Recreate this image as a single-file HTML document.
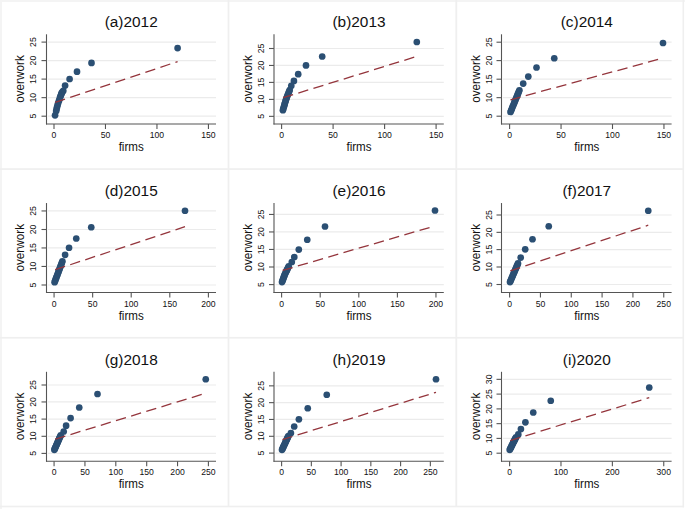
<!DOCTYPE html><html><head><meta charset="utf-8"><style>html,body{margin:0;padding:0;background:#fff;}svg{display:block;}text{font-family:"Liberation Sans",sans-serif;fill:#111;}</style></head><body>
<svg width="685" height="509" viewBox="0 0 685 509">
<rect x="0" y="0" width="685" height="509" fill="#fff"/>
<g fill="#efefef">
<rect x="0" y="0" width="685" height="2" fill="#f4f4f4"/>
<rect x="0" y="0" width="2" height="509" fill="#f4f4f4"/>
<rect x="227.6" y="0" width="1.8" height="507"/>
<rect x="455.4" y="0" width="1.8" height="507"/>
<rect x="682.5" y="0" width="1.6" height="507.3"/>
<rect x="0" y="168.2" width="684" height="1.7"/>
<rect x="0" y="336.9" width="684" height="1.7"/>
<rect x="0" y="505.7" width="684.1" height="1.6"/>
</g>
<g><line x1="48" y1="42.1" x2="216" y2="42.1" stroke="#ebebeb" stroke-width="1.2"/><line x1="48" y1="60.6" x2="216" y2="60.6" stroke="#ebebeb" stroke-width="1.2"/><line x1="48" y1="79.1" x2="216" y2="79.1" stroke="#ebebeb" stroke-width="1.2"/><line x1="48" y1="97.65" x2="216" y2="97.65" stroke="#ebebeb" stroke-width="1.2"/><line x1="48" y1="116.2" x2="216" y2="116.2" stroke="#ebebeb" stroke-width="1.2"/><line x1="46.5" y1="34.3" x2="46.5" y2="124.5" stroke="#555555" stroke-width="1.1"/><line x1="46" y1="124" x2="216" y2="124" stroke="#555555" stroke-width="1.1"/><line x1="41.5" y1="42.1" x2="46.5" y2="42.1" stroke="#555555" stroke-width="1.1"/><text x="0" y="0" transform="translate(36.2,42.1) rotate(-90)" text-anchor="middle" font-size="9" textLength="9.61" lengthAdjust="spacingAndGlyphs">25</text><line x1="41.5" y1="60.6" x2="46.5" y2="60.6" stroke="#555555" stroke-width="1.1"/><text x="0" y="0" transform="translate(36.2,60.6) rotate(-90)" text-anchor="middle" font-size="9" textLength="9.61" lengthAdjust="spacingAndGlyphs">20</text><line x1="41.5" y1="79.1" x2="46.5" y2="79.1" stroke="#555555" stroke-width="1.1"/><text x="0" y="0" transform="translate(36.2,79.1) rotate(-90)" text-anchor="middle" font-size="9" textLength="9.61" lengthAdjust="spacingAndGlyphs">15</text><line x1="41.5" y1="97.65" x2="46.5" y2="97.65" stroke="#555555" stroke-width="1.1"/><text x="0" y="0" transform="translate(36.2,97.65) rotate(-90)" text-anchor="middle" font-size="9" textLength="9.61" lengthAdjust="spacingAndGlyphs">10</text><line x1="41.5" y1="116.2" x2="46.5" y2="116.2" stroke="#555555" stroke-width="1.1"/><text x="0" y="0" transform="translate(36.2,116.2) rotate(-90)" text-anchor="middle" font-size="9" textLength="4.81" lengthAdjust="spacingAndGlyphs">5</text><line x1="54" y1="124" x2="54" y2="129" stroke="#555555" stroke-width="1.1"/><text x="54" y="138.1" text-anchor="middle" font-size="9" textLength="4.81" lengthAdjust="spacingAndGlyphs">0</text><line x1="105.48" y1="124" x2="105.48" y2="129" stroke="#555555" stroke-width="1.1"/><text x="105.48" y="138.1" text-anchor="middle" font-size="9" textLength="9.61" lengthAdjust="spacingAndGlyphs">50</text><line x1="156.96" y1="124" x2="156.96" y2="129" stroke="#555555" stroke-width="1.1"/><text x="156.96" y="138.1" text-anchor="middle" font-size="9" textLength="14.42" lengthAdjust="spacingAndGlyphs">100</text><line x1="208.44" y1="124" x2="208.44" y2="129" stroke="#555555" stroke-width="1.1"/><text x="208.44" y="138.1" text-anchor="middle" font-size="9" textLength="14.42" lengthAdjust="spacingAndGlyphs">150</text><circle cx="177.6" cy="48.1" r="3.35" fill="#2b4f73"/><circle cx="91.5" cy="62.9" r="3.35" fill="#2b4f73"/><circle cx="77" cy="71.7" r="3.35" fill="#2b4f73"/><circle cx="69.6" cy="79" r="3.35" fill="#2b4f73"/><circle cx="65.1" cy="85.6" r="3.35" fill="#2b4f73"/><circle cx="63.3" cy="90.85" r="3.35" fill="#2b4f73"/><circle cx="62.3" cy="92" r="3.35" fill="#2b4f73"/><circle cx="61.6" cy="93.2" r="3.35" fill="#2b4f73"/><circle cx="61.2" cy="94.4" r="3.35" fill="#2b4f73"/><circle cx="60.75" cy="95.6" r="3.35" fill="#2b4f73"/><circle cx="60.2" cy="97" r="3.35" fill="#2b4f73"/><circle cx="59.8" cy="98.4" r="3.35" fill="#2b4f73"/><circle cx="59" cy="100.7" r="3.35" fill="#2b4f73"/><circle cx="58.15" cy="103.1" r="3.35" fill="#2b4f73"/><circle cx="57.6" cy="105.1" r="3.35" fill="#2b4f73"/><circle cx="57.05" cy="107.1" r="3.35" fill="#2b4f73"/><circle cx="56.6" cy="109.1" r="3.35" fill="#2b4f73"/><circle cx="56.15" cy="111.1" r="3.35" fill="#2b4f73"/><circle cx="55.05" cy="115.3" r="3.35" fill="#2b4f73"/><line x1="55.15" y1="102.44" x2="177.6" y2="61.54" stroke="#94353c" stroke-width="1.3" stroke-dasharray="10.4 5.45"/><text class="ttl" x="131.2" y="27.3" text-anchor="middle" font-size="15.4">(a)2012</text><text x="131.2" y="150.8" text-anchor="middle" font-size="12" textLength="25.1" lengthAdjust="spacingAndGlyphs">firms</text><text x="0" y="0" transform="translate(24,79) rotate(-90)" text-anchor="middle" font-size="12" textLength="47.6" lengthAdjust="spacingAndGlyphs">overwork</text></g>
<g><line x1="275.5" y1="48.5" x2="443.8" y2="48.5" stroke="#ebebeb" stroke-width="1.2"/><line x1="275.5" y1="65.45" x2="443.8" y2="65.45" stroke="#ebebeb" stroke-width="1.2"/><line x1="275.5" y1="82.4" x2="443.8" y2="82.4" stroke="#ebebeb" stroke-width="1.2"/><line x1="275.5" y1="99.4" x2="443.8" y2="99.4" stroke="#ebebeb" stroke-width="1.2"/><line x1="275.5" y1="116.35" x2="443.8" y2="116.35" stroke="#ebebeb" stroke-width="1.2"/><line x1="274" y1="34.3" x2="274" y2="124.5" stroke="#555555" stroke-width="1.1"/><line x1="273.5" y1="124" x2="443.8" y2="124" stroke="#555555" stroke-width="1.1"/><line x1="269" y1="48.5" x2="274" y2="48.5" stroke="#555555" stroke-width="1.1"/><text x="0" y="0" transform="translate(264,48.5) rotate(-90)" text-anchor="middle" font-size="9" textLength="9.61" lengthAdjust="spacingAndGlyphs">25</text><line x1="269" y1="65.45" x2="274" y2="65.45" stroke="#555555" stroke-width="1.1"/><text x="0" y="0" transform="translate(264,65.45) rotate(-90)" text-anchor="middle" font-size="9" textLength="9.61" lengthAdjust="spacingAndGlyphs">20</text><line x1="269" y1="82.4" x2="274" y2="82.4" stroke="#555555" stroke-width="1.1"/><text x="0" y="0" transform="translate(264,82.4) rotate(-90)" text-anchor="middle" font-size="9" textLength="9.61" lengthAdjust="spacingAndGlyphs">15</text><line x1="269" y1="99.4" x2="274" y2="99.4" stroke="#555555" stroke-width="1.1"/><text x="0" y="0" transform="translate(264,99.4) rotate(-90)" text-anchor="middle" font-size="9" textLength="9.61" lengthAdjust="spacingAndGlyphs">10</text><line x1="269" y1="116.35" x2="274" y2="116.35" stroke="#555555" stroke-width="1.1"/><text x="0" y="0" transform="translate(264,116.35) rotate(-90)" text-anchor="middle" font-size="9" textLength="4.81" lengthAdjust="spacingAndGlyphs">5</text><line x1="281.6" y1="124" x2="281.6" y2="129" stroke="#555555" stroke-width="1.1"/><text x="281.6" y="138.1" text-anchor="middle" font-size="9" textLength="4.81" lengthAdjust="spacingAndGlyphs">0</text><line x1="333.1" y1="124" x2="333.1" y2="129" stroke="#555555" stroke-width="1.1"/><text x="333.1" y="138.1" text-anchor="middle" font-size="9" textLength="9.61" lengthAdjust="spacingAndGlyphs">50</text><line x1="384.6" y1="124" x2="384.6" y2="129" stroke="#555555" stroke-width="1.1"/><text x="384.6" y="138.1" text-anchor="middle" font-size="9" textLength="14.42" lengthAdjust="spacingAndGlyphs">100</text><line x1="436.1" y1="124" x2="436.1" y2="129" stroke="#555555" stroke-width="1.1"/><text x="436.1" y="138.1" text-anchor="middle" font-size="9" textLength="14.42" lengthAdjust="spacingAndGlyphs">150</text><circle cx="416.8" cy="42" r="3.35" fill="#2b4f73"/><circle cx="322.2" cy="56.5" r="3.35" fill="#2b4f73"/><circle cx="306" cy="65.4" r="3.35" fill="#2b4f73"/><circle cx="298.2" cy="74.2" r="3.35" fill="#2b4f73"/><circle cx="293.9" cy="80.9" r="3.35" fill="#2b4f73"/><circle cx="291.3" cy="85.8" r="3.35" fill="#2b4f73"/><circle cx="289.7" cy="90" r="3.35" fill="#2b4f73"/><circle cx="289.1" cy="91.53" r="3.35" fill="#2b4f73"/><circle cx="288.5" cy="93.06" r="3.35" fill="#2b4f73"/><circle cx="287.91" cy="94.58" r="3.35" fill="#2b4f73"/><circle cx="287.31" cy="96.11" r="3.35" fill="#2b4f73"/><circle cx="286.71" cy="97.64" r="3.35" fill="#2b4f73"/><circle cx="286.11" cy="99.17" r="3.35" fill="#2b4f73"/><circle cx="285.65" cy="100.74" r="3.35" fill="#2b4f73"/><circle cx="285.19" cy="102.32" r="3.35" fill="#2b4f73"/><circle cx="284.73" cy="103.9" r="3.35" fill="#2b4f73"/><circle cx="284.28" cy="105.47" r="3.35" fill="#2b4f73"/><circle cx="283.82" cy="107.05" r="3.35" fill="#2b4f73"/><circle cx="283.36" cy="108.62" r="3.35" fill="#2b4f73"/><circle cx="282.9" cy="110.2" r="3.35" fill="#2b4f73"/><line x1="283.15" y1="97.74" x2="416.8" y2="56.44" stroke="#94353c" stroke-width="1.3" stroke-dasharray="10.4 5.45"/><text class="ttl" x="359" y="27.3" text-anchor="middle" font-size="15.4">(b)2013</text><text x="359" y="150.8" text-anchor="middle" font-size="12" textLength="25.1" lengthAdjust="spacingAndGlyphs">firms</text><text x="0" y="0" transform="translate(251.8,79) rotate(-90)" text-anchor="middle" font-size="12" textLength="47.6" lengthAdjust="spacingAndGlyphs">overwork</text></g>
<g><line x1="503" y1="42.2" x2="671.6" y2="42.2" stroke="#ebebeb" stroke-width="1.2"/><line x1="503" y1="60.6" x2="671.6" y2="60.6" stroke="#ebebeb" stroke-width="1.2"/><line x1="503" y1="79.2" x2="671.6" y2="79.2" stroke="#ebebeb" stroke-width="1.2"/><line x1="503" y1="97.65" x2="671.6" y2="97.65" stroke="#ebebeb" stroke-width="1.2"/><line x1="503" y1="116.2" x2="671.6" y2="116.2" stroke="#ebebeb" stroke-width="1.2"/><line x1="501.5" y1="34.3" x2="501.5" y2="124.5" stroke="#555555" stroke-width="1.1"/><line x1="501" y1="124" x2="671.6" y2="124" stroke="#555555" stroke-width="1.1"/><line x1="496.5" y1="42.2" x2="501.5" y2="42.2" stroke="#555555" stroke-width="1.1"/><text x="0" y="0" transform="translate(491.8,42.2) rotate(-90)" text-anchor="middle" font-size="9" textLength="9.61" lengthAdjust="spacingAndGlyphs">25</text><line x1="496.5" y1="60.6" x2="501.5" y2="60.6" stroke="#555555" stroke-width="1.1"/><text x="0" y="0" transform="translate(491.8,60.6) rotate(-90)" text-anchor="middle" font-size="9" textLength="9.61" lengthAdjust="spacingAndGlyphs">20</text><line x1="496.5" y1="79.2" x2="501.5" y2="79.2" stroke="#555555" stroke-width="1.1"/><text x="0" y="0" transform="translate(491.8,79.2) rotate(-90)" text-anchor="middle" font-size="9" textLength="9.61" lengthAdjust="spacingAndGlyphs">15</text><line x1="496.5" y1="97.65" x2="501.5" y2="97.65" stroke="#555555" stroke-width="1.1"/><text x="0" y="0" transform="translate(491.8,97.65) rotate(-90)" text-anchor="middle" font-size="9" textLength="9.61" lengthAdjust="spacingAndGlyphs">10</text><line x1="496.5" y1="116.2" x2="501.5" y2="116.2" stroke="#555555" stroke-width="1.1"/><text x="0" y="0" transform="translate(491.8,116.2) rotate(-90)" text-anchor="middle" font-size="9" textLength="4.81" lengthAdjust="spacingAndGlyphs">5</text><line x1="509.6" y1="124" x2="509.6" y2="129" stroke="#555555" stroke-width="1.1"/><text x="509.6" y="138.1" text-anchor="middle" font-size="9" textLength="4.81" lengthAdjust="spacingAndGlyphs">0</text><line x1="561.05" y1="124" x2="561.05" y2="129" stroke="#555555" stroke-width="1.1"/><text x="561.05" y="138.1" text-anchor="middle" font-size="9" textLength="9.61" lengthAdjust="spacingAndGlyphs">50</text><line x1="612.5" y1="124" x2="612.5" y2="129" stroke="#555555" stroke-width="1.1"/><text x="612.5" y="138.1" text-anchor="middle" font-size="9" textLength="14.42" lengthAdjust="spacingAndGlyphs">100</text><line x1="663.95" y1="124" x2="663.95" y2="129" stroke="#555555" stroke-width="1.1"/><text x="663.95" y="138.1" text-anchor="middle" font-size="9" textLength="14.42" lengthAdjust="spacingAndGlyphs">150</text><circle cx="663" cy="43" r="3.35" fill="#2b4f73"/><circle cx="554.25" cy="58.25" r="3.35" fill="#2b4f73"/><circle cx="536.5" cy="67.5" r="3.35" fill="#2b4f73"/><circle cx="528.3" cy="76.6" r="3.35" fill="#2b4f73"/><circle cx="523.2" cy="83.6" r="3.35" fill="#2b4f73"/><circle cx="519.4" cy="90.3" r="3.35" fill="#2b4f73"/><circle cx="518.76" cy="91.85" r="3.35" fill="#2b4f73"/><circle cx="518.13" cy="93.4" r="3.35" fill="#2b4f73"/><circle cx="517.49" cy="94.95" r="3.35" fill="#2b4f73"/><circle cx="516.86" cy="96.5" r="3.35" fill="#2b4f73"/><circle cx="516.22" cy="98.05" r="3.35" fill="#2b4f73"/><circle cx="515.59" cy="99.6" r="3.35" fill="#2b4f73"/><circle cx="514.95" cy="101.15" r="3.35" fill="#2b4f73"/><circle cx="514.31" cy="102.7" r="3.35" fill="#2b4f73"/><circle cx="513.68" cy="104.25" r="3.35" fill="#2b4f73"/><circle cx="513.04" cy="105.8" r="3.35" fill="#2b4f73"/><circle cx="512.41" cy="107.35" r="3.35" fill="#2b4f73"/><circle cx="511.77" cy="108.9" r="3.35" fill="#2b4f73"/><circle cx="511.14" cy="110.45" r="3.35" fill="#2b4f73"/><circle cx="510.5" cy="112" r="3.35" fill="#2b4f73"/><line x1="510.45" y1="99.84" x2="663" y2="58.04" stroke="#94353c" stroke-width="1.3" stroke-dasharray="10.4 5.45"/><text class="ttl" x="586.8" y="27.3" text-anchor="middle" font-size="15.4">(c)2014</text><text x="586.8" y="150.8" text-anchor="middle" font-size="12" textLength="25.1" lengthAdjust="spacingAndGlyphs">firms</text><text x="0" y="0" transform="translate(479.6,79) rotate(-90)" text-anchor="middle" font-size="12" textLength="47.6" lengthAdjust="spacingAndGlyphs">overwork</text></g>
<g><line x1="48" y1="210.95" x2="216" y2="210.95" stroke="#ebebeb" stroke-width="1.2"/><line x1="48" y1="229.5" x2="216" y2="229.5" stroke="#ebebeb" stroke-width="1.2"/><line x1="48" y1="247.95" x2="216" y2="247.95" stroke="#ebebeb" stroke-width="1.2"/><line x1="48" y1="266.45" x2="216" y2="266.45" stroke="#ebebeb" stroke-width="1.2"/><line x1="48" y1="285" x2="216" y2="285" stroke="#ebebeb" stroke-width="1.2"/><line x1="46.5" y1="203.05" x2="46.5" y2="292.95" stroke="#555555" stroke-width="1.1"/><line x1="46" y1="292.45" x2="216" y2="292.45" stroke="#555555" stroke-width="1.1"/><line x1="41.5" y1="210.95" x2="46.5" y2="210.95" stroke="#555555" stroke-width="1.1"/><text x="0" y="0" transform="translate(36.2,210.95) rotate(-90)" text-anchor="middle" font-size="9" textLength="9.61" lengthAdjust="spacingAndGlyphs">25</text><line x1="41.5" y1="229.5" x2="46.5" y2="229.5" stroke="#555555" stroke-width="1.1"/><text x="0" y="0" transform="translate(36.2,229.5) rotate(-90)" text-anchor="middle" font-size="9" textLength="9.61" lengthAdjust="spacingAndGlyphs">20</text><line x1="41.5" y1="247.95" x2="46.5" y2="247.95" stroke="#555555" stroke-width="1.1"/><text x="0" y="0" transform="translate(36.2,247.95) rotate(-90)" text-anchor="middle" font-size="9" textLength="9.61" lengthAdjust="spacingAndGlyphs">15</text><line x1="41.5" y1="266.45" x2="46.5" y2="266.45" stroke="#555555" stroke-width="1.1"/><text x="0" y="0" transform="translate(36.2,266.45) rotate(-90)" text-anchor="middle" font-size="9" textLength="9.61" lengthAdjust="spacingAndGlyphs">10</text><line x1="41.5" y1="285" x2="46.5" y2="285" stroke="#555555" stroke-width="1.1"/><text x="0" y="0" transform="translate(36.2,285) rotate(-90)" text-anchor="middle" font-size="9" textLength="4.81" lengthAdjust="spacingAndGlyphs">5</text><line x1="54.07" y1="292.45" x2="54.07" y2="297.45" stroke="#555555" stroke-width="1.1"/><text x="54.07" y="306.55" text-anchor="middle" font-size="9" textLength="4.81" lengthAdjust="spacingAndGlyphs">0</text><line x1="92.65" y1="292.45" x2="92.65" y2="297.45" stroke="#555555" stroke-width="1.1"/><text x="92.65" y="306.55" text-anchor="middle" font-size="9" textLength="9.61" lengthAdjust="spacingAndGlyphs">50</text><line x1="131.2" y1="292.45" x2="131.2" y2="297.45" stroke="#555555" stroke-width="1.1"/><text x="131.2" y="306.55" text-anchor="middle" font-size="9" textLength="14.42" lengthAdjust="spacingAndGlyphs">100</text><line x1="169.8" y1="292.45" x2="169.8" y2="297.45" stroke="#555555" stroke-width="1.1"/><text x="169.8" y="306.55" text-anchor="middle" font-size="9" textLength="14.42" lengthAdjust="spacingAndGlyphs">150</text><line x1="208.4" y1="292.45" x2="208.4" y2="297.45" stroke="#555555" stroke-width="1.1"/><text x="208.4" y="306.55" text-anchor="middle" font-size="9" textLength="14.42" lengthAdjust="spacingAndGlyphs">200</text><circle cx="185" cy="210.75" r="3.35" fill="#2b4f73"/><circle cx="91.25" cy="227.25" r="3.35" fill="#2b4f73"/><circle cx="76.25" cy="238.5" r="3.35" fill="#2b4f73"/><circle cx="69.05" cy="247.75" r="3.35" fill="#2b4f73"/><circle cx="65.1" cy="254.8" r="3.35" fill="#2b4f73"/><circle cx="62.4" cy="261.3" r="3.35" fill="#2b4f73"/><circle cx="61.84" cy="262.79" r="3.35" fill="#2b4f73"/><circle cx="61.29" cy="264.29" r="3.35" fill="#2b4f73"/><circle cx="60.73" cy="265.78" r="3.35" fill="#2b4f73"/><circle cx="60.17" cy="267.27" r="3.35" fill="#2b4f73"/><circle cx="59.61" cy="268.76" r="3.35" fill="#2b4f73"/><circle cx="59.06" cy="270.26" r="3.35" fill="#2b4f73"/><circle cx="58.5" cy="271.75" r="3.35" fill="#2b4f73"/><circle cx="57.94" cy="273.24" r="3.35" fill="#2b4f73"/><circle cx="57.39" cy="274.74" r="3.35" fill="#2b4f73"/><circle cx="56.83" cy="276.23" r="3.35" fill="#2b4f73"/><circle cx="56.27" cy="277.72" r="3.35" fill="#2b4f73"/><circle cx="55.71" cy="279.21" r="3.35" fill="#2b4f73"/><circle cx="55.16" cy="280.71" r="3.35" fill="#2b4f73"/><circle cx="54.6" cy="282.2" r="3.35" fill="#2b4f73"/><line x1="55.15" y1="269.74" x2="185" y2="226.68" stroke="#94353c" stroke-width="1.3" stroke-dasharray="10.4 5.45"/><text class="ttl" x="131.2" y="196.05" text-anchor="middle" font-size="15.4">(d)2015</text><text x="131.2" y="319.55" text-anchor="middle" font-size="12" textLength="25.1" lengthAdjust="spacingAndGlyphs">firms</text><text x="0" y="0" transform="translate(24,247.75) rotate(-90)" text-anchor="middle" font-size="12" textLength="47.6" lengthAdjust="spacingAndGlyphs">overwork</text></g>
<g><line x1="275.5" y1="214.45" x2="443.8" y2="214.45" stroke="#ebebeb" stroke-width="1.2"/><line x1="275.5" y1="231.95" x2="443.8" y2="231.95" stroke="#ebebeb" stroke-width="1.2"/><line x1="275.5" y1="249.45" x2="443.8" y2="249.45" stroke="#ebebeb" stroke-width="1.2"/><line x1="275.5" y1="267" x2="443.8" y2="267" stroke="#ebebeb" stroke-width="1.2"/><line x1="275.5" y1="284.6" x2="443.8" y2="284.6" stroke="#ebebeb" stroke-width="1.2"/><line x1="274" y1="203.05" x2="274" y2="292.95" stroke="#555555" stroke-width="1.1"/><line x1="273.5" y1="292.45" x2="443.8" y2="292.45" stroke="#555555" stroke-width="1.1"/><line x1="269" y1="214.45" x2="274" y2="214.45" stroke="#555555" stroke-width="1.1"/><text x="0" y="0" transform="translate(264,214.45) rotate(-90)" text-anchor="middle" font-size="9" textLength="9.61" lengthAdjust="spacingAndGlyphs">25</text><line x1="269" y1="231.95" x2="274" y2="231.95" stroke="#555555" stroke-width="1.1"/><text x="0" y="0" transform="translate(264,231.95) rotate(-90)" text-anchor="middle" font-size="9" textLength="9.61" lengthAdjust="spacingAndGlyphs">20</text><line x1="269" y1="249.45" x2="274" y2="249.45" stroke="#555555" stroke-width="1.1"/><text x="0" y="0" transform="translate(264,249.45) rotate(-90)" text-anchor="middle" font-size="9" textLength="9.61" lengthAdjust="spacingAndGlyphs">15</text><line x1="269" y1="267" x2="274" y2="267" stroke="#555555" stroke-width="1.1"/><text x="0" y="0" transform="translate(264,267) rotate(-90)" text-anchor="middle" font-size="9" textLength="9.61" lengthAdjust="spacingAndGlyphs">10</text><line x1="269" y1="284.6" x2="274" y2="284.6" stroke="#555555" stroke-width="1.1"/><text x="0" y="0" transform="translate(264,284.6) rotate(-90)" text-anchor="middle" font-size="9" textLength="4.81" lengthAdjust="spacingAndGlyphs">5</text><line x1="281.6" y1="292.45" x2="281.6" y2="297.45" stroke="#555555" stroke-width="1.1"/><text x="281.6" y="306.55" text-anchor="middle" font-size="9" textLength="4.81" lengthAdjust="spacingAndGlyphs">0</text><line x1="320.2" y1="292.45" x2="320.2" y2="297.45" stroke="#555555" stroke-width="1.1"/><text x="320.2" y="306.55" text-anchor="middle" font-size="9" textLength="9.61" lengthAdjust="spacingAndGlyphs">50</text><line x1="358.8" y1="292.45" x2="358.8" y2="297.45" stroke="#555555" stroke-width="1.1"/><text x="358.8" y="306.55" text-anchor="middle" font-size="9" textLength="14.42" lengthAdjust="spacingAndGlyphs">100</text><line x1="397.4" y1="292.45" x2="397.4" y2="297.45" stroke="#555555" stroke-width="1.1"/><text x="397.4" y="306.55" text-anchor="middle" font-size="9" textLength="14.42" lengthAdjust="spacingAndGlyphs">150</text><line x1="435.95" y1="292.45" x2="435.95" y2="297.45" stroke="#555555" stroke-width="1.1"/><text x="435.95" y="306.55" text-anchor="middle" font-size="9" textLength="14.42" lengthAdjust="spacingAndGlyphs">200</text><circle cx="435" cy="210.5" r="3.35" fill="#2b4f73"/><circle cx="325" cy="226.5" r="3.35" fill="#2b4f73"/><circle cx="307.25" cy="239.75" r="3.35" fill="#2b4f73"/><circle cx="298.8" cy="249.6" r="3.35" fill="#2b4f73"/><circle cx="294.3" cy="257" r="3.35" fill="#2b4f73"/><circle cx="291.8" cy="262" r="3.35" fill="#2b4f73"/><circle cx="288.7" cy="266.4" r="3.35" fill="#2b4f73"/><circle cx="288.13" cy="267.58" r="3.35" fill="#2b4f73"/><circle cx="287.56" cy="268.77" r="3.35" fill="#2b4f73"/><circle cx="286.99" cy="269.95" r="3.35" fill="#2b4f73"/><circle cx="286.42" cy="271.14" r="3.35" fill="#2b4f73"/><circle cx="285.85" cy="272.32" r="3.35" fill="#2b4f73"/><circle cx="285.28" cy="273.51" r="3.35" fill="#2b4f73"/><circle cx="284.7" cy="274.69" r="3.35" fill="#2b4f73"/><circle cx="284.25" cy="275.92" r="3.35" fill="#2b4f73"/><circle cx="283.8" cy="277.16" r="3.35" fill="#2b4f73"/><circle cx="283.35" cy="278.39" r="3.35" fill="#2b4f73"/><circle cx="282.9" cy="279.63" r="3.35" fill="#2b4f73"/><circle cx="282.45" cy="280.86" r="3.35" fill="#2b4f73"/><circle cx="282" cy="282.1" r="3.35" fill="#2b4f73"/><line x1="282.63" y1="270.44" x2="434.4" y2="226.09" stroke="#94353c" stroke-width="1.3" stroke-dasharray="10.4 5.45"/><text class="ttl" x="359" y="196.05" text-anchor="middle" font-size="15.4">(e)2016</text><text x="359" y="319.55" text-anchor="middle" font-size="12" textLength="25.1" lengthAdjust="spacingAndGlyphs">firms</text><text x="0" y="0" transform="translate(251.8,247.75) rotate(-90)" text-anchor="middle" font-size="12" textLength="47.6" lengthAdjust="spacingAndGlyphs">overwork</text></g>
<g><line x1="503" y1="215" x2="671.6" y2="215" stroke="#ebebeb" stroke-width="1.2"/><line x1="503" y1="232.35" x2="671.6" y2="232.35" stroke="#ebebeb" stroke-width="1.2"/><line x1="503" y1="249.6" x2="671.6" y2="249.6" stroke="#ebebeb" stroke-width="1.2"/><line x1="503" y1="267" x2="671.6" y2="267" stroke="#ebebeb" stroke-width="1.2"/><line x1="503" y1="284.5" x2="671.6" y2="284.5" stroke="#ebebeb" stroke-width="1.2"/><line x1="501.5" y1="203.05" x2="501.5" y2="292.95" stroke="#555555" stroke-width="1.1"/><line x1="501" y1="292.45" x2="671.6" y2="292.45" stroke="#555555" stroke-width="1.1"/><line x1="496.5" y1="215" x2="501.5" y2="215" stroke="#555555" stroke-width="1.1"/><text x="0" y="0" transform="translate(491.8,215) rotate(-90)" text-anchor="middle" font-size="9" textLength="9.61" lengthAdjust="spacingAndGlyphs">25</text><line x1="496.5" y1="232.35" x2="501.5" y2="232.35" stroke="#555555" stroke-width="1.1"/><text x="0" y="0" transform="translate(491.8,232.35) rotate(-90)" text-anchor="middle" font-size="9" textLength="9.61" lengthAdjust="spacingAndGlyphs">20</text><line x1="496.5" y1="249.6" x2="501.5" y2="249.6" stroke="#555555" stroke-width="1.1"/><text x="0" y="0" transform="translate(491.8,249.6) rotate(-90)" text-anchor="middle" font-size="9" textLength="9.61" lengthAdjust="spacingAndGlyphs">15</text><line x1="496.5" y1="267" x2="501.5" y2="267" stroke="#555555" stroke-width="1.1"/><text x="0" y="0" transform="translate(491.8,267) rotate(-90)" text-anchor="middle" font-size="9" textLength="9.61" lengthAdjust="spacingAndGlyphs">10</text><line x1="496.5" y1="284.5" x2="501.5" y2="284.5" stroke="#555555" stroke-width="1.1"/><text x="0" y="0" transform="translate(491.8,284.5) rotate(-90)" text-anchor="middle" font-size="9" textLength="4.81" lengthAdjust="spacingAndGlyphs">5</text><line x1="509.6" y1="292.45" x2="509.6" y2="297.45" stroke="#555555" stroke-width="1.1"/><text x="509.6" y="306.55" text-anchor="middle" font-size="9" textLength="4.81" lengthAdjust="spacingAndGlyphs">0</text><line x1="540.43" y1="292.45" x2="540.43" y2="297.45" stroke="#555555" stroke-width="1.1"/><text x="540.43" y="306.55" text-anchor="middle" font-size="9" textLength="9.61" lengthAdjust="spacingAndGlyphs">50</text><line x1="571.26" y1="292.45" x2="571.26" y2="297.45" stroke="#555555" stroke-width="1.1"/><text x="571.26" y="306.55" text-anchor="middle" font-size="9" textLength="14.42" lengthAdjust="spacingAndGlyphs">100</text><line x1="602.09" y1="292.45" x2="602.09" y2="297.45" stroke="#555555" stroke-width="1.1"/><text x="602.09" y="306.55" text-anchor="middle" font-size="9" textLength="14.42" lengthAdjust="spacingAndGlyphs">150</text><line x1="632.92" y1="292.45" x2="632.92" y2="297.45" stroke="#555555" stroke-width="1.1"/><text x="632.92" y="306.55" text-anchor="middle" font-size="9" textLength="14.42" lengthAdjust="spacingAndGlyphs">200</text><line x1="663.75" y1="292.45" x2="663.75" y2="297.45" stroke="#555555" stroke-width="1.1"/><text x="663.75" y="306.55" text-anchor="middle" font-size="9" textLength="14.42" lengthAdjust="spacingAndGlyphs">250</text><circle cx="648.25" cy="210.75" r="3.35" fill="#2b4f73"/><circle cx="548.75" cy="226.25" r="3.35" fill="#2b4f73"/><circle cx="532.5" cy="239.25" r="3.35" fill="#2b4f73"/><circle cx="525.2" cy="249.3" r="3.35" fill="#2b4f73"/><circle cx="520.7" cy="257.6" r="3.35" fill="#2b4f73"/><circle cx="518" cy="263.4" r="3.35" fill="#2b4f73"/><circle cx="517.43" cy="264.74" r="3.35" fill="#2b4f73"/><circle cx="516.86" cy="266.07" r="3.35" fill="#2b4f73"/><circle cx="516.29" cy="267.41" r="3.35" fill="#2b4f73"/><circle cx="515.71" cy="268.74" r="3.35" fill="#2b4f73"/><circle cx="515.14" cy="270.08" r="3.35" fill="#2b4f73"/><circle cx="514.57" cy="271.41" r="3.35" fill="#2b4f73"/><circle cx="514" cy="272.75" r="3.35" fill="#2b4f73"/><circle cx="513.43" cy="274.09" r="3.35" fill="#2b4f73"/><circle cx="512.86" cy="275.42" r="3.35" fill="#2b4f73"/><circle cx="512.29" cy="276.76" r="3.35" fill="#2b4f73"/><circle cx="511.71" cy="278.09" r="3.35" fill="#2b4f73"/><circle cx="511.14" cy="279.43" r="3.35" fill="#2b4f73"/><circle cx="510.57" cy="280.76" r="3.35" fill="#2b4f73"/><circle cx="510" cy="282.1" r="3.35" fill="#2b4f73"/><line x1="510.28" y1="270.79" x2="648.25" y2="225.23" stroke="#94353c" stroke-width="1.3" stroke-dasharray="10.4 5.45"/><text class="ttl" x="586.8" y="196.05" text-anchor="middle" font-size="15.4">(f)2017</text><text x="586.8" y="319.55" text-anchor="middle" font-size="12" textLength="25.1" lengthAdjust="spacingAndGlyphs">firms</text><text x="0" y="0" transform="translate(479.6,247.75) rotate(-90)" text-anchor="middle" font-size="12" textLength="47.6" lengthAdjust="spacingAndGlyphs">overwork</text></g>
<g><line x1="48" y1="385" x2="216" y2="385" stroke="#ebebeb" stroke-width="1.2"/><line x1="48" y1="401.95" x2="216" y2="401.95" stroke="#ebebeb" stroke-width="1.2"/><line x1="48" y1="419.1" x2="216" y2="419.1" stroke="#ebebeb" stroke-width="1.2"/><line x1="48" y1="436.3" x2="216" y2="436.3" stroke="#ebebeb" stroke-width="1.2"/><line x1="48" y1="453.4" x2="216" y2="453.4" stroke="#ebebeb" stroke-width="1.2"/><line x1="46.5" y1="371.8" x2="46.5" y2="461.7" stroke="#555555" stroke-width="1.1"/><line x1="46" y1="461.2" x2="216" y2="461.2" stroke="#555555" stroke-width="1.1"/><line x1="41.5" y1="385" x2="46.5" y2="385" stroke="#555555" stroke-width="1.1"/><text x="0" y="0" transform="translate(36.2,385) rotate(-90)" text-anchor="middle" font-size="9" textLength="9.61" lengthAdjust="spacingAndGlyphs">25</text><line x1="41.5" y1="401.95" x2="46.5" y2="401.95" stroke="#555555" stroke-width="1.1"/><text x="0" y="0" transform="translate(36.2,401.95) rotate(-90)" text-anchor="middle" font-size="9" textLength="9.61" lengthAdjust="spacingAndGlyphs">20</text><line x1="41.5" y1="419.1" x2="46.5" y2="419.1" stroke="#555555" stroke-width="1.1"/><text x="0" y="0" transform="translate(36.2,419.1) rotate(-90)" text-anchor="middle" font-size="9" textLength="9.61" lengthAdjust="spacingAndGlyphs">15</text><line x1="41.5" y1="436.3" x2="46.5" y2="436.3" stroke="#555555" stroke-width="1.1"/><text x="0" y="0" transform="translate(36.2,436.3) rotate(-90)" text-anchor="middle" font-size="9" textLength="9.61" lengthAdjust="spacingAndGlyphs">10</text><line x1="41.5" y1="453.4" x2="46.5" y2="453.4" stroke="#555555" stroke-width="1.1"/><text x="0" y="0" transform="translate(36.2,453.4) rotate(-90)" text-anchor="middle" font-size="9" textLength="4.81" lengthAdjust="spacingAndGlyphs">5</text><line x1="54.07" y1="461.2" x2="54.07" y2="466.2" stroke="#555555" stroke-width="1.1"/><text x="54.07" y="475.3" text-anchor="middle" font-size="9" textLength="4.81" lengthAdjust="spacingAndGlyphs">0</text><line x1="84.94" y1="461.2" x2="84.94" y2="466.2" stroke="#555555" stroke-width="1.1"/><text x="84.94" y="475.3" text-anchor="middle" font-size="9" textLength="9.61" lengthAdjust="spacingAndGlyphs">50</text><line x1="115.8" y1="461.2" x2="115.8" y2="466.2" stroke="#555555" stroke-width="1.1"/><text x="115.8" y="475.3" text-anchor="middle" font-size="9" textLength="14.42" lengthAdjust="spacingAndGlyphs">100</text><line x1="146.7" y1="461.2" x2="146.7" y2="466.2" stroke="#555555" stroke-width="1.1"/><text x="146.7" y="475.3" text-anchor="middle" font-size="9" textLength="14.42" lengthAdjust="spacingAndGlyphs">150</text><line x1="177.55" y1="461.2" x2="177.55" y2="466.2" stroke="#555555" stroke-width="1.1"/><text x="177.55" y="475.3" text-anchor="middle" font-size="9" textLength="14.42" lengthAdjust="spacingAndGlyphs">200</text><line x1="208.4" y1="461.2" x2="208.4" y2="466.2" stroke="#555555" stroke-width="1.1"/><text x="208.4" y="475.3" text-anchor="middle" font-size="9" textLength="14.42" lengthAdjust="spacingAndGlyphs">250</text><circle cx="205.75" cy="379.25" r="3.35" fill="#2b4f73"/><circle cx="97.5" cy="394" r="3.35" fill="#2b4f73"/><circle cx="79.25" cy="407.5" r="3.35" fill="#2b4f73"/><circle cx="70.6" cy="418.1" r="3.35" fill="#2b4f73"/><circle cx="66.1" cy="425.7" r="3.35" fill="#2b4f73"/><circle cx="63.7" cy="431.5" r="3.35" fill="#2b4f73"/><circle cx="60.7" cy="435.4" r="3.35" fill="#2b4f73"/><circle cx="60.21" cy="436.51" r="3.35" fill="#2b4f73"/><circle cx="59.72" cy="437.62" r="3.35" fill="#2b4f73"/><circle cx="59.23" cy="438.72" r="3.35" fill="#2b4f73"/><circle cx="58.75" cy="439.83" r="3.35" fill="#2b4f73"/><circle cx="58.26" cy="440.94" r="3.35" fill="#2b4f73"/><circle cx="57.77" cy="442.05" r="3.35" fill="#2b4f73"/><circle cx="57.28" cy="443.15" r="3.35" fill="#2b4f73"/><circle cx="56.79" cy="444.26" r="3.35" fill="#2b4f73"/><circle cx="56.3" cy="445.37" r="3.35" fill="#2b4f73"/><circle cx="55.82" cy="446.48" r="3.35" fill="#2b4f73"/><circle cx="55.33" cy="447.58" r="3.35" fill="#2b4f73"/><circle cx="54.84" cy="448.69" r="3.35" fill="#2b4f73"/><circle cx="54.35" cy="449.8" r="3.35" fill="#2b4f73"/><line x1="55.33" y1="439.15" x2="205.75" y2="393.26" stroke="#94353c" stroke-width="1.3" stroke-dasharray="10.4 5.45"/><text class="ttl" x="131.2" y="364.8" text-anchor="middle" font-size="15.4">(g)2018</text><text x="131.2" y="488.3" text-anchor="middle" font-size="12" textLength="25.1" lengthAdjust="spacingAndGlyphs">firms</text><text x="0" y="0" transform="translate(24,416.5) rotate(-90)" text-anchor="middle" font-size="12" textLength="47.6" lengthAdjust="spacingAndGlyphs">overwork</text></g>
<g><line x1="275.5" y1="385.85" x2="443.8" y2="385.85" stroke="#ebebeb" stroke-width="1.2"/><line x1="275.5" y1="402.65" x2="443.8" y2="402.65" stroke="#ebebeb" stroke-width="1.2"/><line x1="275.5" y1="419.45" x2="443.8" y2="419.45" stroke="#ebebeb" stroke-width="1.2"/><line x1="275.5" y1="436.3" x2="443.8" y2="436.3" stroke="#ebebeb" stroke-width="1.2"/><line x1="275.5" y1="453.1" x2="443.8" y2="453.1" stroke="#ebebeb" stroke-width="1.2"/><line x1="274" y1="371.8" x2="274" y2="461.7" stroke="#555555" stroke-width="1.1"/><line x1="273.5" y1="461.2" x2="443.8" y2="461.2" stroke="#555555" stroke-width="1.1"/><line x1="269" y1="385.85" x2="274" y2="385.85" stroke="#555555" stroke-width="1.1"/><text x="0" y="0" transform="translate(264,385.85) rotate(-90)" text-anchor="middle" font-size="9" textLength="9.61" lengthAdjust="spacingAndGlyphs">25</text><line x1="269" y1="402.65" x2="274" y2="402.65" stroke="#555555" stroke-width="1.1"/><text x="0" y="0" transform="translate(264,402.65) rotate(-90)" text-anchor="middle" font-size="9" textLength="9.61" lengthAdjust="spacingAndGlyphs">20</text><line x1="269" y1="419.45" x2="274" y2="419.45" stroke="#555555" stroke-width="1.1"/><text x="0" y="0" transform="translate(264,419.45) rotate(-90)" text-anchor="middle" font-size="9" textLength="9.61" lengthAdjust="spacingAndGlyphs">15</text><line x1="269" y1="436.3" x2="274" y2="436.3" stroke="#555555" stroke-width="1.1"/><text x="0" y="0" transform="translate(264,436.3) rotate(-90)" text-anchor="middle" font-size="9" textLength="9.61" lengthAdjust="spacingAndGlyphs">10</text><line x1="269" y1="453.1" x2="274" y2="453.1" stroke="#555555" stroke-width="1.1"/><text x="0" y="0" transform="translate(264,453.1) rotate(-90)" text-anchor="middle" font-size="9" textLength="4.81" lengthAdjust="spacingAndGlyphs">5</text><line x1="281.6" y1="461.2" x2="281.6" y2="466.2" stroke="#555555" stroke-width="1.1"/><text x="281.6" y="475.3" text-anchor="middle" font-size="9" textLength="4.81" lengthAdjust="spacingAndGlyphs">0</text><line x1="311.35" y1="461.2" x2="311.35" y2="466.2" stroke="#555555" stroke-width="1.1"/><text x="311.35" y="475.3" text-anchor="middle" font-size="9" textLength="9.61" lengthAdjust="spacingAndGlyphs">50</text><line x1="341.1" y1="461.2" x2="341.1" y2="466.2" stroke="#555555" stroke-width="1.1"/><text x="341.1" y="475.3" text-anchor="middle" font-size="9" textLength="14.42" lengthAdjust="spacingAndGlyphs">100</text><line x1="370.85" y1="461.2" x2="370.85" y2="466.2" stroke="#555555" stroke-width="1.1"/><text x="370.85" y="475.3" text-anchor="middle" font-size="9" textLength="14.42" lengthAdjust="spacingAndGlyphs">150</text><line x1="400.6" y1="461.2" x2="400.6" y2="466.2" stroke="#555555" stroke-width="1.1"/><text x="400.6" y="475.3" text-anchor="middle" font-size="9" textLength="14.42" lengthAdjust="spacingAndGlyphs">200</text><line x1="430.35" y1="461.2" x2="430.35" y2="466.2" stroke="#555555" stroke-width="1.1"/><text x="430.35" y="475.3" text-anchor="middle" font-size="9" textLength="14.42" lengthAdjust="spacingAndGlyphs">250</text><circle cx="436" cy="379.25" r="3.35" fill="#2b4f73"/><circle cx="326.75" cy="394.75" r="3.35" fill="#2b4f73"/><circle cx="307.75" cy="408.25" r="3.35" fill="#2b4f73"/><circle cx="298.9" cy="419.3" r="3.35" fill="#2b4f73"/><circle cx="294.2" cy="426.5" r="3.35" fill="#2b4f73"/><circle cx="290.9" cy="433" r="3.35" fill="#2b4f73"/><circle cx="288.4" cy="436.05" r="3.35" fill="#2b4f73"/><circle cx="287.91" cy="437.11" r="3.35" fill="#2b4f73"/><circle cx="287.42" cy="438.17" r="3.35" fill="#2b4f73"/><circle cx="286.92" cy="439.22" r="3.35" fill="#2b4f73"/><circle cx="286.43" cy="440.28" r="3.35" fill="#2b4f73"/><circle cx="285.94" cy="441.34" r="3.35" fill="#2b4f73"/><circle cx="285.45" cy="442.4" r="3.35" fill="#2b4f73"/><circle cx="284.95" cy="443.45" r="3.35" fill="#2b4f73"/><circle cx="284.46" cy="444.51" r="3.35" fill="#2b4f73"/><circle cx="283.97" cy="445.57" r="3.35" fill="#2b4f73"/><circle cx="283.48" cy="446.63" r="3.35" fill="#2b4f73"/><circle cx="282.98" cy="447.68" r="3.35" fill="#2b4f73"/><circle cx="282.49" cy="448.74" r="3.35" fill="#2b4f73"/><circle cx="282" cy="449.8" r="3.35" fill="#2b4f73"/><line x1="282.45" y1="439.56" x2="436" y2="392.33" stroke="#94353c" stroke-width="1.3" stroke-dasharray="10.4 5.45"/><text class="ttl" x="359" y="364.8" text-anchor="middle" font-size="15.4">(h)2019</text><text x="359" y="488.3" text-anchor="middle" font-size="12" textLength="25.1" lengthAdjust="spacingAndGlyphs">firms</text><text x="0" y="0" transform="translate(251.8,416.5) rotate(-90)" text-anchor="middle" font-size="12" textLength="47.6" lengthAdjust="spacingAndGlyphs">overwork</text></g>
<g><line x1="503" y1="379.35" x2="671.6" y2="379.35" stroke="#ebebeb" stroke-width="1.2"/><line x1="503" y1="394.1" x2="671.6" y2="394.1" stroke="#ebebeb" stroke-width="1.2"/><line x1="503" y1="408.9" x2="671.6" y2="408.9" stroke="#ebebeb" stroke-width="1.2"/><line x1="503" y1="423.65" x2="671.6" y2="423.65" stroke="#ebebeb" stroke-width="1.2"/><line x1="503" y1="438.4" x2="671.6" y2="438.4" stroke="#ebebeb" stroke-width="1.2"/><line x1="503" y1="453.2" x2="671.6" y2="453.2" stroke="#ebebeb" stroke-width="1.2"/><line x1="501.5" y1="371.8" x2="501.5" y2="461.7" stroke="#555555" stroke-width="1.1"/><line x1="501" y1="461.2" x2="671.6" y2="461.2" stroke="#555555" stroke-width="1.1"/><line x1="496.5" y1="379.35" x2="501.5" y2="379.35" stroke="#555555" stroke-width="1.1"/><text x="0" y="0" transform="translate(491.8,379.35) rotate(-90)" text-anchor="middle" font-size="9" textLength="9.61" lengthAdjust="spacingAndGlyphs">30</text><line x1="496.5" y1="394.1" x2="501.5" y2="394.1" stroke="#555555" stroke-width="1.1"/><text x="0" y="0" transform="translate(491.8,394.1) rotate(-90)" text-anchor="middle" font-size="9" textLength="9.61" lengthAdjust="spacingAndGlyphs">25</text><line x1="496.5" y1="408.9" x2="501.5" y2="408.9" stroke="#555555" stroke-width="1.1"/><text x="0" y="0" transform="translate(491.8,408.9) rotate(-90)" text-anchor="middle" font-size="9" textLength="9.61" lengthAdjust="spacingAndGlyphs">20</text><line x1="496.5" y1="423.65" x2="501.5" y2="423.65" stroke="#555555" stroke-width="1.1"/><text x="0" y="0" transform="translate(491.8,423.65) rotate(-90)" text-anchor="middle" font-size="9" textLength="9.61" lengthAdjust="spacingAndGlyphs">15</text><line x1="496.5" y1="438.4" x2="501.5" y2="438.4" stroke="#555555" stroke-width="1.1"/><text x="0" y="0" transform="translate(491.8,438.4) rotate(-90)" text-anchor="middle" font-size="9" textLength="9.61" lengthAdjust="spacingAndGlyphs">10</text><line x1="496.5" y1="453.2" x2="501.5" y2="453.2" stroke="#555555" stroke-width="1.1"/><text x="0" y="0" transform="translate(491.8,453.2) rotate(-90)" text-anchor="middle" font-size="9" textLength="4.81" lengthAdjust="spacingAndGlyphs">5</text><line x1="509.6" y1="461.2" x2="509.6" y2="466.2" stroke="#555555" stroke-width="1.1"/><text x="509.6" y="475.3" text-anchor="middle" font-size="9" textLength="4.81" lengthAdjust="spacingAndGlyphs">0</text><line x1="560.98" y1="461.2" x2="560.98" y2="466.2" stroke="#555555" stroke-width="1.1"/><text x="560.98" y="475.3" text-anchor="middle" font-size="9" textLength="14.42" lengthAdjust="spacingAndGlyphs">100</text><line x1="612.37" y1="461.2" x2="612.37" y2="466.2" stroke="#555555" stroke-width="1.1"/><text x="612.37" y="475.3" text-anchor="middle" font-size="9" textLength="14.42" lengthAdjust="spacingAndGlyphs">200</text><line x1="663.75" y1="461.2" x2="663.75" y2="466.2" stroke="#555555" stroke-width="1.1"/><text x="663.75" y="475.3" text-anchor="middle" font-size="9" textLength="14.42" lengthAdjust="spacingAndGlyphs">300</text><circle cx="649.25" cy="387.5" r="3.35" fill="#2b4f73"/><circle cx="550.75" cy="400.75" r="3.35" fill="#2b4f73"/><circle cx="533.25" cy="412.5" r="3.35" fill="#2b4f73"/><circle cx="525.4" cy="422.3" r="3.35" fill="#2b4f73"/><circle cx="520.9" cy="429.1" r="3.35" fill="#2b4f73"/><circle cx="518.3" cy="434.4" r="3.35" fill="#2b4f73"/><circle cx="516" cy="437.3" r="3.35" fill="#2b4f73"/><circle cx="515.52" cy="438.26" r="3.35" fill="#2b4f73"/><circle cx="515.03" cy="439.22" r="3.35" fill="#2b4f73"/><circle cx="514.55" cy="440.18" r="3.35" fill="#2b4f73"/><circle cx="514.06" cy="441.15" r="3.35" fill="#2b4f73"/><circle cx="513.58" cy="442.11" r="3.35" fill="#2b4f73"/><circle cx="513.09" cy="443.07" r="3.35" fill="#2b4f73"/><circle cx="512.61" cy="444.03" r="3.35" fill="#2b4f73"/><circle cx="512.12" cy="444.99" r="3.35" fill="#2b4f73"/><circle cx="511.64" cy="445.95" r="3.35" fill="#2b4f73"/><circle cx="511.15" cy="446.92" r="3.35" fill="#2b4f73"/><circle cx="510.67" cy="447.88" r="3.35" fill="#2b4f73"/><circle cx="510.18" cy="448.84" r="3.35" fill="#2b4f73"/><circle cx="509.7" cy="449.8" r="3.35" fill="#2b4f73"/><line x1="510.28" y1="440.51" x2="649.25" y2="397.65" stroke="#94353c" stroke-width="1.3" stroke-dasharray="10.4 5.45"/><text class="ttl" x="586.8" y="364.8" text-anchor="middle" font-size="15.4">(i)2020</text><text x="586.8" y="488.3" text-anchor="middle" font-size="12" textLength="25.1" lengthAdjust="spacingAndGlyphs">firms</text><text x="0" y="0" transform="translate(479.6,416.5) rotate(-90)" text-anchor="middle" font-size="12" textLength="47.6" lengthAdjust="spacingAndGlyphs">overwork</text></g>
</svg></body></html>
